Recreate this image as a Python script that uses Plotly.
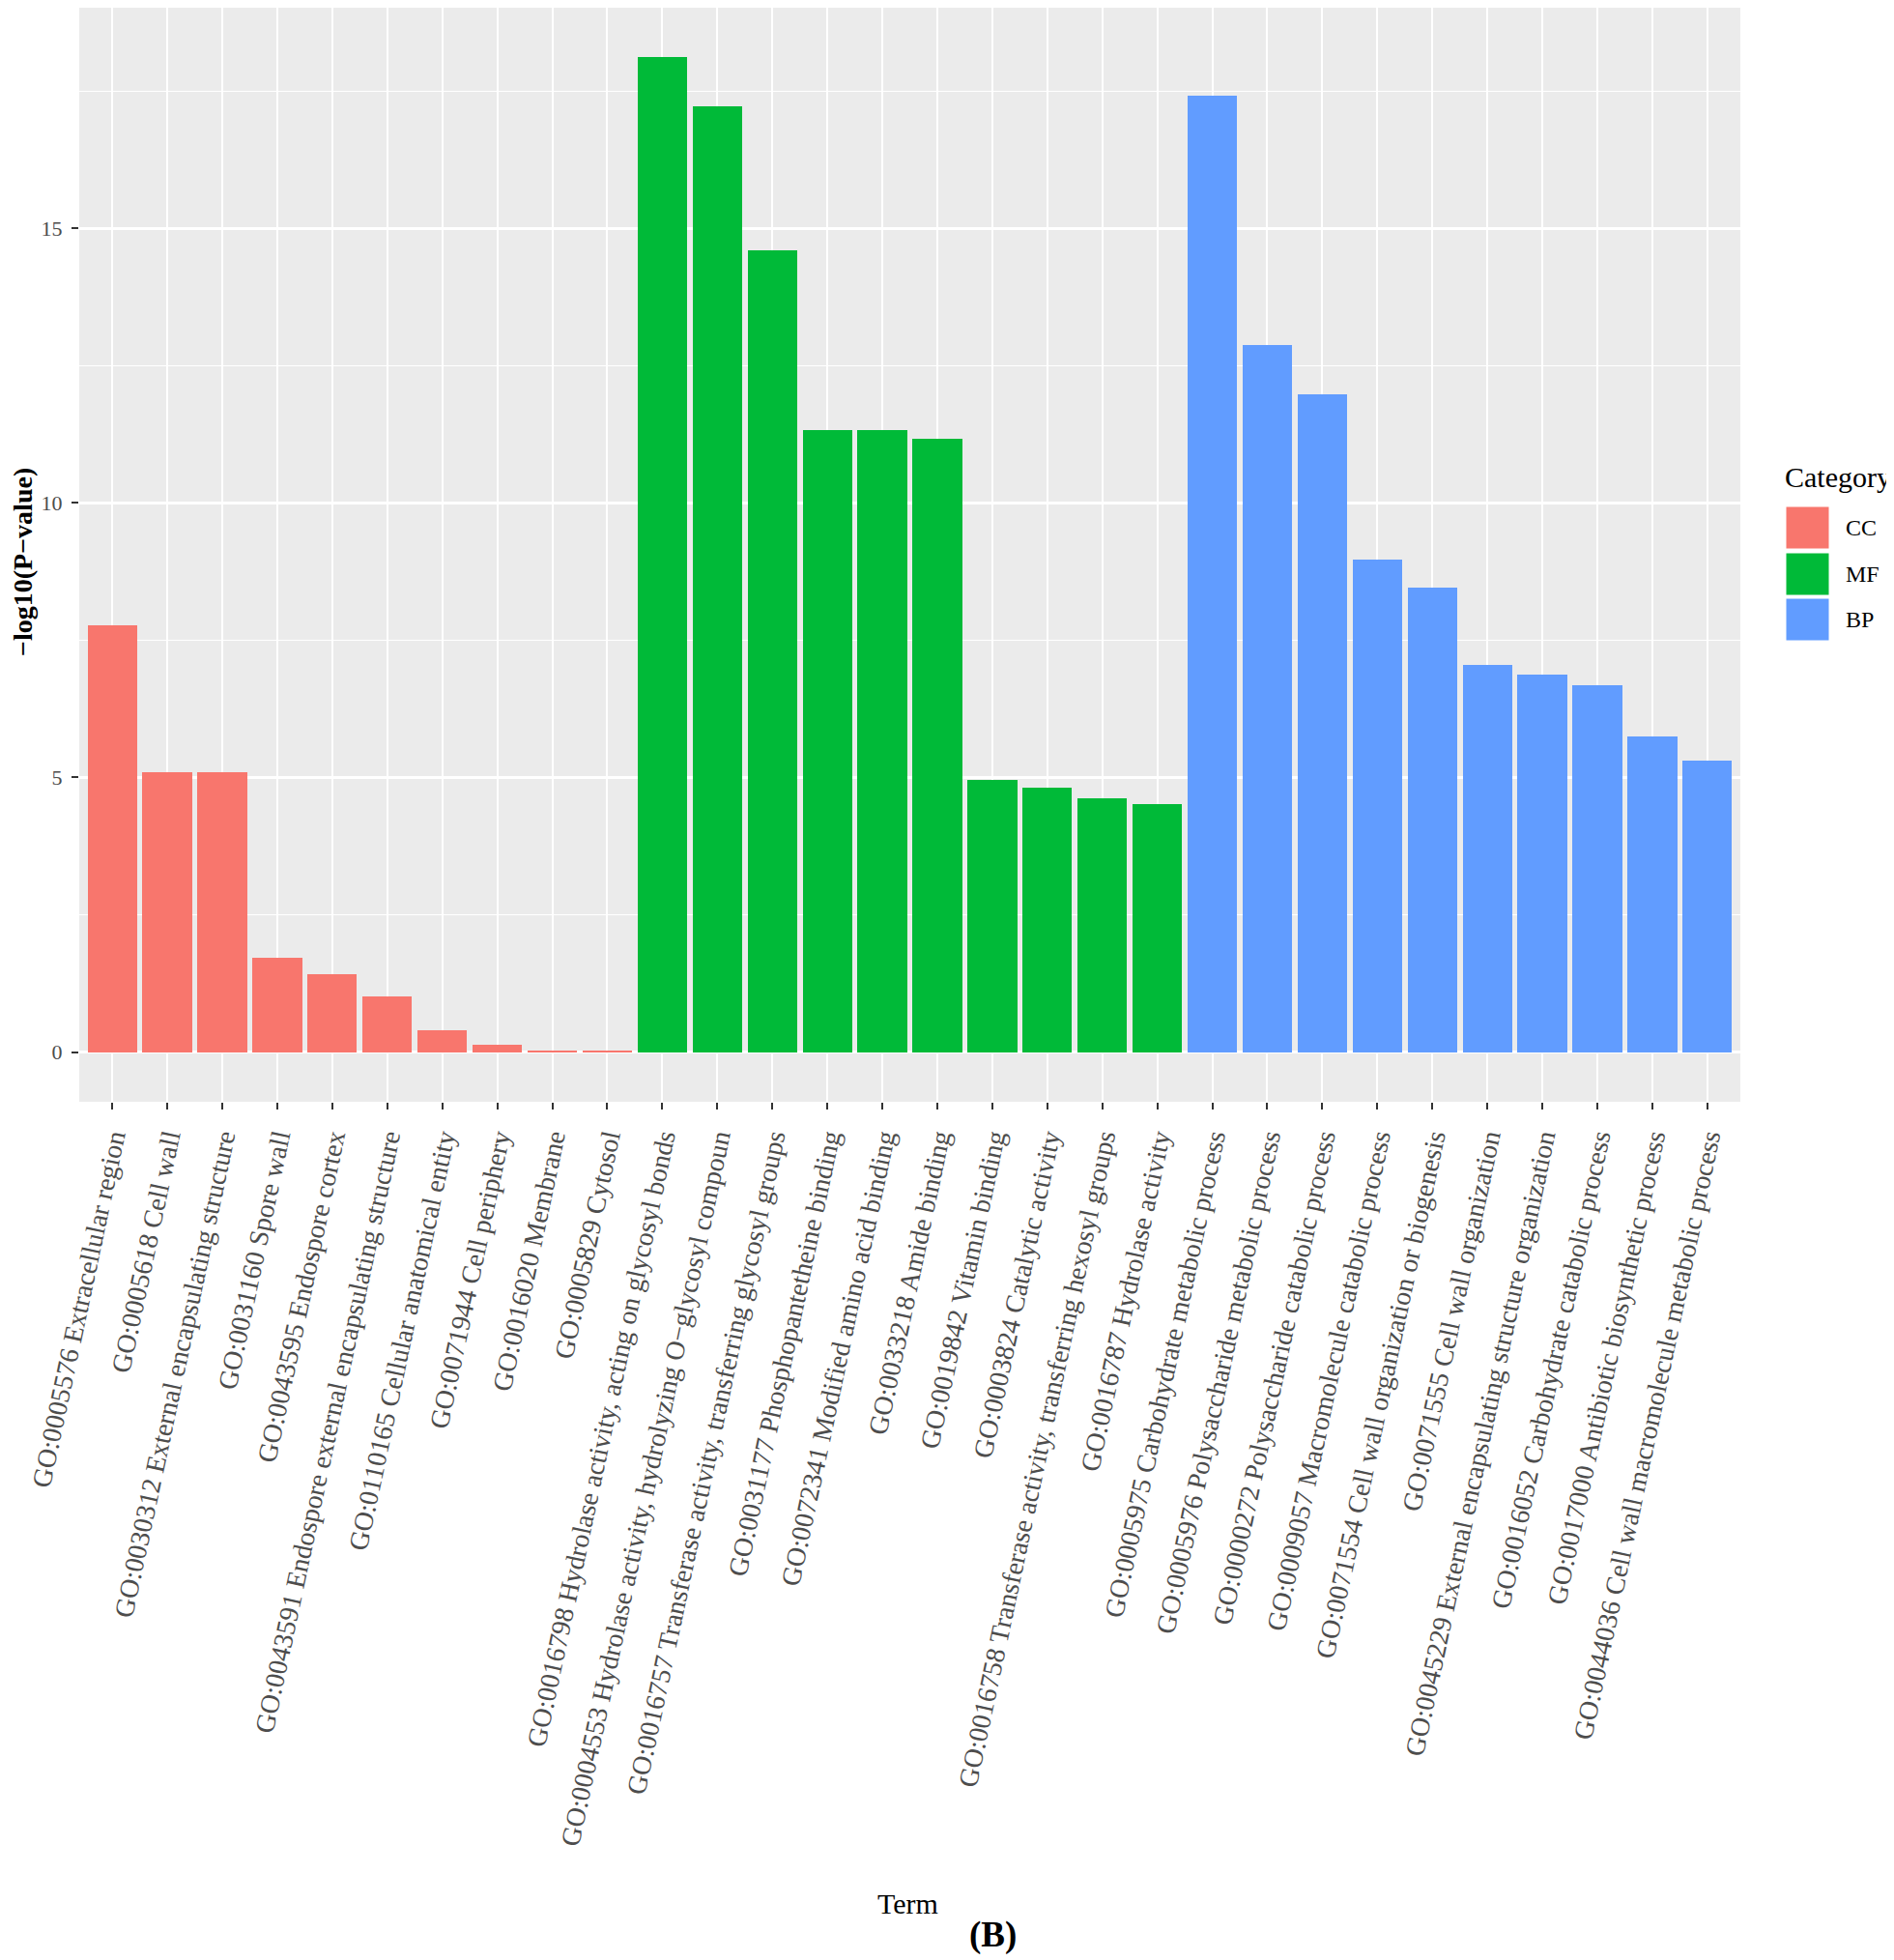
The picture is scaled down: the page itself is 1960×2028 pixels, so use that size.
import plotly.graph_objects as go

# ---------------- data ----------------
cc_terms = [
    "GO:0005576 Extracellular region",
    "GO:0005618 Cell wall",
    "GO:0030312 External encapsulating structure",
    "GO:0031160 Spore wall",
    "GO:0043595 Endospore cortex",
    "GO:0043591 Endospore external encapsulating structure",
    "GO:0110165 Cellular anatomical entity",
    "GO:0071944 Cell periphery",
    "GO:0016020 Membrane",
    "GO:0005829 Cytosol",
]
cc_values = [7.77, 5.10, 5.10, 1.71, 1.41, 1.01, 0.40, 0.13, 0.03, 0.01]

mf_terms = [
    "GO:0016798 Hydrolase activity, acting on glycosyl bonds",
    "GO:0004553 Hydrolase activity, hydrolyzing O\u2212glycosyl compoun",
    "GO:0016757 Transferase activity, transferring glycosyl groups",
    "GO:0031177 Phosphopantetheine binding",
    "GO:0072341 Modified amino acid binding",
    "GO:0033218 Amide binding",
    "GO:0019842 Vitamin binding",
    "GO:0003824 Catalytic activity",
    "GO:0016758 Transferase activity, transferring hexosyl groups",
    "GO:0016787 Hydrolase activity",
]
mf_values = [18.11, 17.22, 14.60, 11.33, 11.33, 11.16, 4.96, 4.82, 4.62, 4.52]

bp_terms = [
    "GO:0005975 Carbohydrate metabolic process",
    "GO:0005976 Polysaccharide metabolic process",
    "GO:0000272 Polysaccharide catabolic process",
    "GO:0009057 Macromolecule catabolic process",
    "GO:0071554 Cell wall organization or biogenesis",
    "GO:0071555 Cell wall organization",
    "GO:0045229 External encapsulating structure organization",
    "GO:0016052 Carbohydrate catabolic process",
    "GO:0017000 Antibiotic biosynthetic process",
    "GO:0044036 Cell wall macromolecule metabolic process",
]
bp_values = [17.41, 12.88, 11.97, 8.96, 8.46, 7.05, 6.88, 6.68, 5.74, 5.30]

categories = ["CC", "MF", "BP"]
colors = {"CC": "#F8766D", "MF": "#00BA38", "BP": "#619CFF"}
y_tick_values = [0, 5, 10, 15]

# ---------------- layout geometry (page pixels) ----------------
OFF = 8  # default page body margin
W, H = 1960 - OFF, 2028 - OFF
PL, PR, PT, PB = 82 - OFF, 1801 - OFF, 0, 1140 - OFF
FONT = "Liberation Serif, Times New Roman, serif"


def px_x(x):
    return (x - OFF - PL) / (PR - PL)


def px_y(y):
    return (PB - (y - OFF)) / (PB - PT)


fig = go.Figure()
series = [("CC", cc_terms, cc_values), ("MF", mf_terms, mf_values), ("BP", bp_terms, bp_values)]
for name, terms, vals in series:
    fig.add_trace(go.Bar(
        x=terms, y=vals, name=name, width=0.9,
        marker=dict(color=colors[name], line=dict(width=0)),
        showlegend=False,
    ))

all_terms = cc_terms + mf_terms + bp_terms
ymax = max(cc_values + mf_values + bp_values)
yr = [-0.05 * ymax, ymax * 1.05]

fig.update_layout(
    width=W, height=H,
    margin=dict(l=PL, r=W - PR, t=PT, b=H - PB, pad=0),
    paper_bgcolor="white", plot_bgcolor="#EBEBEB",
    barmode="overlay", bargap=0,
    showlegend=False,
    font=dict(family=FONT, color="#4D4D4D"),
    xaxis=dict(
        type="category", categoryorder="array", categoryarray=all_terms,
        range=[-0.6, len(all_terms) - 0.4],
        showgrid=True, gridcolor="white", gridwidth=2.2,
        ticks="outside", ticklen=7, tickwidth=2, tickcolor="#333333",
        tickangle=-78, tickfont=dict(family=FONT, size=28, color="#4D4D4D"),
        ticklabelstandoff=2,
        showline=False, zeroline=False,
    ),
    yaxis=dict(
        range=yr, tickvals=y_tick_values,
        showgrid=True, gridcolor="white", gridwidth=2.6,
        minor=dict(dtick=2.5, tick0=0, showgrid=True, gridcolor="white", gridwidth=1.2, ticks=""),
        ticks="outside", ticklen=7, tickwidth=2, tickcolor="#333333",
        tickfont=dict(family=FONT, size=22, color="#4D4D4D"),
        ticklabelstandoff=5,
        showline=False, zeroline=False,
    ),
)

ann = []
# axis titles
ann.append(dict(text="Term", x=px_x(939), y=px_y(1970), xref="paper", yref="paper",
                xanchor="center", yanchor="middle", showarrow=False,
                font=dict(family=FONT, size=30, color="black")))
ann.append(dict(text="<b>\u2212log10(P\u2212value)</b>", x=px_x(23), y=px_y(582), xref="paper", yref="paper",
                xanchor="center", yanchor="middle", showarrow=False, textangle=-90,
                font=dict(family=FONT, size=28, color="black")))
ann.append(dict(text="<b>(B)</b>", x=px_x(1027), y=px_y(2002), xref="paper", yref="paper",
                xanchor="center", yanchor="middle", showarrow=False,
                font=dict(family=FONT, size=37, color="black")))

# legend (drawn)
ann.append(dict(text="Category", x=px_x(1845), y=px_y(493), xref="paper", yref="paper",
                xanchor="left", yanchor="middle", showarrow=False,
                font=dict(family=FONT, size=30, color="black")))
shapes = []
key_tops = [524, 572, 619]
for cat, top in zip(categories, key_tops):
    shapes.append(dict(type="rect", xref="paper", yref="paper",
                       x0=px_x(1848), x1=px_x(1893), y0=px_y(top + 44), y1=px_y(top),
                       fillcolor=colors[cat], line=dict(color="white", width=1)))
    ann.append(dict(text=cat, x=px_x(1908), y=px_y(top + 22), xref="paper", yref="paper",
                    xanchor="left", yanchor="middle", showarrow=False,
                    font=dict(family=FONT, size=24, color="black")))

fig.update_layout(annotations=ann, shapes=shapes)
fig.write_html("out.html")
